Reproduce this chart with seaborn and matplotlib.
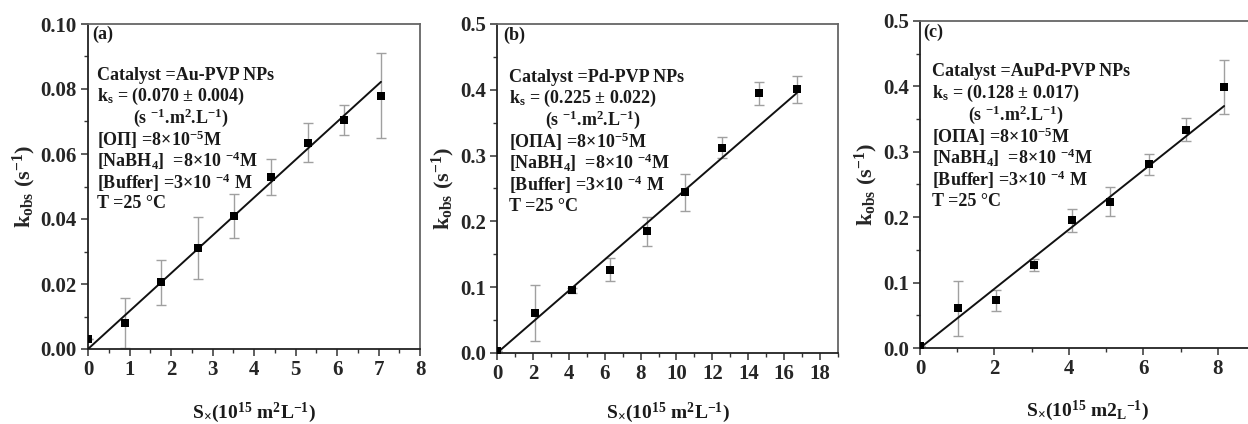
import matplotlib
matplotlib.use("Agg")
import matplotlib.pyplot as plt
import seaborn as sns
import numpy as np
import pandas as pd
from matplotlib.ticker import MultipleLocator, FormatStrFormatter

# ---------------- data ----------------
# panel (a) Au-PVP NPs
a_x = [0.0, 0.88, 1.77, 2.65, 3.53, 4.41, 5.30, 6.18, 7.06]
a_y = [0.003, 0.008, 0.0205, 0.031, 0.041, 0.053, 0.0635, 0.0705, 0.078]
a_err = [0.0, 0.0077, 0.007, 0.0096, 0.0067, 0.0055, 0.0059, 0.0045, 0.013]
a_fit_x = [0.0, 7.06]
a_fit_y = [0.0, 0.0822]

# panel (b) Pd-PVP NPs
b_x = [0.0, 2.1, 4.2, 6.3, 8.35, 10.45, 12.55, 14.6, 16.7]
b_y = [0.0025, 0.061, 0.095, 0.1265, 0.185, 0.2445, 0.312, 0.3945, 0.4005]
b_err = [0.0, 0.0425, 0.004, 0.0175, 0.022, 0.028, 0.016, 0.017, 0.02]
b_fit_x = [0.0, 16.7]
b_fit_y = [0.0, 0.395]

# panel (c) AuPd-PVP NPs
c_x = [0.0, 1.01, 2.04, 3.06, 4.08, 5.10, 6.14, 7.15, 8.17]
c_y = [0.0025, 0.061, 0.0727, 0.127, 0.195, 0.224, 0.281, 0.334, 0.399]
c_err = [0.0, 0.042, 0.016, 0.009, 0.018, 0.022, 0.016, 0.017, 0.041]
c_fit_x = [0.0, 8.17]
c_fit_y = [0.0, 0.370]

panel_tags = ["(a)", "(b)", "(c)"]
catalysts = ["Au-PVP NPs", "Pd-PVP NPs", "AuPd-PVP NPs"]
ks_texts = ["(0.070 ± 0.004)", "(0.225 ± 0.022)", "(0.128 ± 0.017)"]
substrates = ["[OΠ]", "[OΠA]", "[OΠA]"]
xlabels = [r"S$_{\times}$(10$^{15}$ m$^{2}$L$^{-1}$)",
           r"S$_{\times}$(10$^{15}$ m$^{2}$L$^{-1}$)",
           r"S$_{\times}$(10$^{15}$ m2$_{\mathrm{L}}$$^{-1}$)"]
ylabel = r"k$_{\mathrm{obs}}$ (s$^{-1}$)"

# ---------------- style ----------------
sns.set_theme(style="ticks")
plt.rcParams["font.family"] = ["Liberation Serif", "DejaVu Serif"]
plt.rcParams["font.weight"] = "bold"
plt.rcParams["mathtext.fontset"] = "custom"
plt.rcParams["mathtext.rm"] = "Liberation Serif:bold"
plt.rcParams["mathtext.it"] = "Liberation Serif:bold:italic"
plt.rcParams["mathtext.bf"] = "Liberation Serif:bold"
plt.rcParams["mathtext.default"] = "rm"

W, H = 1248, 424
fig = plt.figure(figsize=(W / 100, H / 100), dpi=100)

def px_rect(left, right, top, bottom):
    return [left / W, 1 - bottom / H, (right - left) / W, (bottom - top) / H]

rects = [px_rect(88, 420, 24, 349), px_rect(497, 838, 24, 353), px_rect(920, 1255, 21, 348)]
datasets = [(a_x, a_y, a_err, a_fit_x, a_fit_y),
            (b_x, b_y, b_err, b_fit_x, b_fit_y),
            (c_x, c_y, c_err, c_fit_x, c_fit_y)]
xlims = [(0, 8), (0, 19), (0, 9)]
ylims = [(0, 0.10), (0, 0.5), (0, 0.5)]
xmaj = [1, 2, 2]
xmin = [0.5, 1, 1]
ymaj = [0.02, 0.1, 0.1]
ymin = [0.01, 0.05, 0.05]
yfmt = ["%.2f", "%.1f", "%.1f"]
xticks_max = [8, 18, 8]

# annotation placement (figure pixels): tag pos, block left x, first line y
tag_pos = [(92, 34), (503, 35), (923, 32)]
block_pos = [(97, 75), (509, 77), (932, 72)]
xlabel_y = [413, 413, 411]
line_h = 21.5

txtcol = "#1a1a1a"

for i, rect in enumerate(rects):
    ax = fig.add_axes(rect)
    x, y, err, fx, fy = datasets[i]
    df = pd.DataFrame({"x": x, "y": y})
    fdf = pd.DataFrame({"x": fx, "y": fy})
    ax.errorbar(x, y, yerr=err, fmt="none", ecolor="#a0a0a0", elinewidth=1.0,
                capsize=3.5, capthick=1.0, zorder=2)
    sns.lineplot(data=fdf, x="x", y="y", ax=ax, color="#111111", linewidth=1.4, zorder=3)
    sns.scatterplot(data=df, x="x", y="y", ax=ax, marker="s", s=32, color="black",
                    edgecolor="black", linewidth=0, zorder=4)
    ax.set_xlim(*xlims[i])
    ax.set_ylim(*ylims[i])
    ax.set_xticks(np.arange(0, xticks_max[i] + 0.01, xmaj[i]))
    ax.xaxis.set_minor_locator(MultipleLocator(xmin[i]))
    ax.yaxis.set_major_locator(MultipleLocator(ymaj[i]))
    ax.yaxis.set_minor_locator(MultipleLocator(ymin[i]))
    ax.yaxis.set_major_formatter(FormatStrFormatter(yfmt[i]))
    ax.tick_params(which="major", direction="out", length=5, width=1.1, labelsize=15,
                   color="#333333", pad=3)
    ax.tick_params(which="minor", direction="out", length=3, width=1.0, color="#333333")
    for lab in ax.get_xticklabels() + ax.get_yticklabels():
        lab.set_fontweight("bold")
    for side in ["left", "bottom"]:
        ax.spines[side].set_color("#222222")
        ax.spines[side].set_linewidth(1.3)
    for side in ["top", "right"]:
        ax.spines[side].set_visible(True)
        ax.spines[side].set_color("#666666")
        ax.spines[side].set_linewidth(1.3)
    ax.set_xlabel("")
    ax.set_ylabel(ylabel, fontsize=16, fontweight="bold", labelpad=2)
    # x-axis label placed centred under the axes
    cx = rect[0] + rect[2] / 2 if i < 2 else (920 + 37.2 * 4.5) / W
    fig.text(cx, 1 - xlabel_y[i] / H, xlabels[i], fontsize=14, fontweight="bold",
             ha="center", va="center", color=txtcol)

    tx, ty = tag_pos[i]
    fig.text(tx / W, 1 - ty / H, panel_tags[i], fontsize=13, fontweight="bold",
             color=txtcol, ha="left", va="center")
    lines = [
        "Catalyst =" + catalysts[i],
        r"k$_{s}$ = " + ks_texts[i],
        r"        (s $^{-1}$.m$^{2}$.L$^{-1}$)",
        substrates[i] + r" =8×10$^{-5}$M",
        r"[NaBH$_{4}$]  =8×10 $^{-4}$M",
        r"[Buffer] =3×10 $^{-4}$ M",
        "T =25 °C",
    ]
    bx, by = block_pos[i]
    for k, line in enumerate(lines):
        fig.text(bx / W, 1 - (by + k * line_h) / H, line, fontsize=13, fontweight="bold",
                 color=txtcol, ha="left", va="center")

fig.savefig("out.png", dpi=100)
